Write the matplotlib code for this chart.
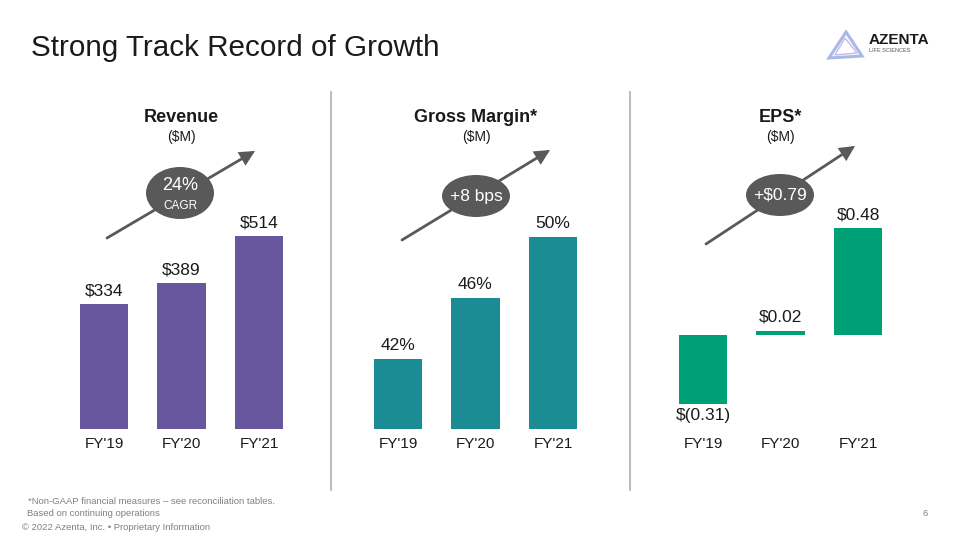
import matplotlib
matplotlib.use("Agg")
import matplotlib.pyplot as plt
from matplotlib.patches import Ellipse, Polygon, FancyArrowPatch
from matplotlib.lines import Line2D

plt.rcParams['font.family'] = ['Liberation Sans', 'DejaVu Sans']

# ---- data ----
years = ["FY'19", "FY'20", "FY'21"]
revenue = [334, 389, 514]
revenue_labels = ["$334", "$389", "$514"]
gross_margin = [42, 46, 50]
gm_labels = ["42%", "46%", "50%"]
eps = [-0.31, 0.02, 0.48]
eps_labels = ["$(0.31)", "$0.02", "$0.48"]

panel_titles = ["Revenue", "Gross Margin*", "EPS*"]
panel_units = ["($M)", "($M)", "($M)"]
badge_main = ["24%", "+8 bps", "+$0.79"]
badge_sub = ["CAGR", "", ""]

C_PURPLE = "#68579E"
C_TEAL = "#1B8C93"
C_GREEN = "#00A076"
C_GRAY = "#595959"
C_TEXT = "#1A1A1A"

W, H = 960, 540
fig = plt.figure(figsize=(9.6, 5.4), dpi=100)
fig.patch.set_facecolor("white")


def fx(x):
    return x / W


def fy(y):
    return 1 - y / H


def add_panel_axes(left_px, ylim):
    # axes spanning from y=150 to y=429 (pixels), 232.5 px wide
    ax = fig.add_axes([fx(left_px), fy(429), 232.5 / W, 279 / H])
    ax.set_xlim(-0.5, 2.5)
    ax.set_ylim(*ylim)
    ax.axis("off")
    return ax


xs = [0, 1, 2]
bw = 0.62
LBL = 12.5

# Revenue
ax1 = add_panel_axes(65.25, (0, 744))
ax1.bar(xs, revenue, width=bw, color=C_PURPLE)
for x, v, lab in zip(xs, revenue, revenue_labels):
    ax1.annotate(lab, (x, v), xytext=(0, 4), textcoords="offset points",
                 ha="center", va="bottom", fontsize=LBL, color=C_TEXT)

# Gross margin
ax2 = add_panel_axes(359.25, (37.41, 37.41 + 279 / 15.25))
ax2.bar(xs, gross_margin, width=bw, color=C_TEAL, bottom=0)
for x, v, lab in zip(xs, gross_margin, gm_labels):
    ax2.annotate(lab, (x, v), xytext=(0, 4), textcoords="offset points",
                 ha="center", va="bottom", fontsize=LBL, color=C_TEXT)

# EPS
ax3 = add_panel_axes(664.25, (-94 / 223, 185 / 223))
ax3.bar(xs, eps, width=bw, color=C_GREEN)
for x, v, lab in zip(xs, eps, eps_labels):
    if v >= 0:
        ax3.annotate(lab, (x, v), xytext=(0, 4), textcoords="offset points",
                     ha="center", va="bottom", fontsize=LBL, color=C_TEXT)
    else:
        ax3.annotate(lab, (x, v), xytext=(0, -3), textcoords="offset points",
                     ha="center", va="top", fontsize=LBL, color=C_TEXT)

# x tick labels (below each panel)
for ax in (ax1, ax2, ax3):
    for x, lab in zip(xs, years):
        ax.annotate(lab, (x, 0), xycoords=("data", "axes fraction"),
                    xytext=(0, -6), textcoords="offset points",
                    ha="center", va="top", fontsize=11, color=C_TEXT)

# panel titles
centers = [181, 476, 780]
for cx, t, u in zip(centers, panel_titles, panel_units):
    fig.text(fx(cx), fy(117), t, ha="center", va="center", fontsize=13,
             fontweight="bold", color=C_TEXT)
    fig.text(fx(cx), fy(137), u, ha="center", va="center", fontsize=10,
             color=C_TEXT)

# arrows and badges
arrows = [((107, 238), (255, 151)), ((402, 240), (550, 150)), ((706, 244), (855, 146))]
badges = [(180, 193, 68, 52), (476, 196, 68, 42), (780, 195, 68, 42)]
for (p0, p1), (bx, by, bwid, bht), m, s in zip(arrows, badges, badge_main, badge_sub):
    arr = FancyArrowPatch((fx(p0[0]), fy(p0[1])), (fx(p1[0]), fy(p1[1])),
                          transform=fig.transFigure,
                          arrowstyle="-|>,head_length=8,head_width=4",
                          mutation_scale=1.0, color=C_GRAY, lw=2.0,
                          shrinkA=0, shrinkB=0, joinstyle="miter")
    fig.add_artist(arr)
    el = Ellipse((fx(bx), fy(by)), bwid / W, bht / H, transform=fig.transFigure,
                 facecolor=C_GRAY, edgecolor="none", zorder=3)
    fig.add_artist(el)
    if s:
        fig.text(fx(bx), fy(by - 7), m, ha="center", va="center", fontsize=13,
                 color="white", zorder=4)
        fig.text(fx(bx), fy(by + 13), s, ha="center", va="center", fontsize=8.5,
                 color="white", zorder=4)
    else:
        fig.text(fx(bx), fy(by), m, ha="center", va="center", fontsize=12.5,
                 color="white", zorder=4)

# dividers
for xd in (331, 630):
    fig.add_artist(Line2D([fx(xd), fx(xd)], [fy(92), fy(490)], transform=fig.transFigure,
                          color="#BDB3AC", lw=1.3))

# title
fig.text(fx(31), fy(48), "Strong Track Record of Growth", ha="left", va="center",
         fontsize=21.3, color=C_TEXT)

# logo
tri = Polygon([(fx(846), fy(32)), (fx(829), fy(58)), (fx(862), fy(56))], closed=True,
              transform=fig.transFigure, facecolor="none", edgecolor="#A9B8E6", lw=2.2)
fig.add_artist(tri)
tri2 = Polygon([(fx(845), fy(38)), (fx(835), fy(55)), (fx(857), fy(53))], closed=True,
               transform=fig.transFigure, facecolor="none", edgecolor="#C7B8E6", lw=1.0)
fig.add_artist(tri2)
fig.text(fx(869), fy(40), "AZENTA", ha="left", va="center", fontsize=11,
         fontweight="bold", color="#1A1A1A")
fig.text(fx(869), fy(50), "LIFE SCIENCES", ha="left", va="center", fontsize=4,
         color="#555555")

# footer
fig.text(fx(28), fy(501), "*Non-GAAP financial measures \u2013 see reconciliation tables.",
         ha="left", va="center", fontsize=6.8, color="#808080")
fig.text(fx(27), fy(514), "Based on continuing operations", ha="left", va="center",
         fontsize=6.8, color="#808080")
fig.text(fx(22), fy(528), "\u00a9 2022 Azenta, Inc. \u2022 Proprietary Information",
         ha="left", va="center", fontsize=6.8, color="#808080")
fig.text(fx(925), fy(514), "6", ha="center", va="center", fontsize=6.8, color="#808080")

fig.savefig("out.png", dpi=100, facecolor="white")
